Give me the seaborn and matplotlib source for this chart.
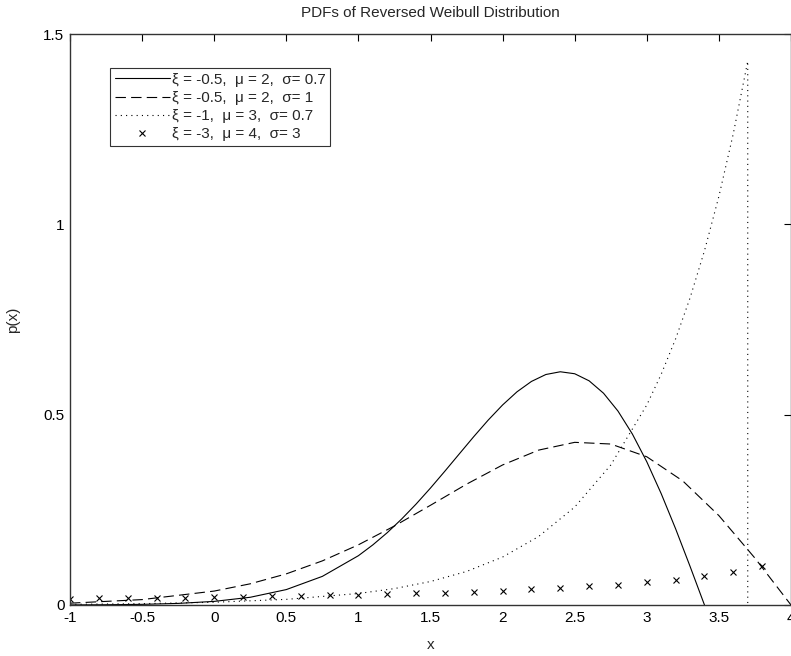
import matplotlib
matplotlib.use("Agg")
import matplotlib.pyplot as plt
import seaborn as sns
import pandas as pd

# ---- data ----
x_solid = [-1.0, -0.75, -0.5, -0.25, 0.0, 0.25, 0.5, 0.75, 1.0, 1.1, 1.2, 1.3, 1.4, 1.5,
           1.6, 1.7, 1.8, 1.9, 2.0, 2.1, 2.2, 2.3, 2.4, 2.5, 2.6, 2.7, 2.8, 2.9, 3.0,
           3.1, 3.2, 3.3, 3.4]
p_solid = [0.0002, 0.0007, 0.0017, 0.0042, 0.0095, 0.0203, 0.0405, 0.0752, 0.1295, 0.1579,
           0.19, 0.2259, 0.2651, 0.3073, 0.3517, 0.3971, 0.4423, 0.4857, 0.5255, 0.5601,
           0.5873, 0.6055, 0.6127, 0.6075, 0.5889, 0.5563, 0.5095, 0.4491, 0.3762,
           0.2924, 0.2, 0.1015, 0.0]

x_dash = [-1.0, -0.5, 0.0, 0.25, 0.5, 0.75, 1.0, 1.25, 1.5, 1.75, 2.0, 2.25, 2.5,
          2.75, 3.0, 3.25, 3.5, 3.75, 4.0]
p_dash = [0.0048, 0.0142, 0.0366, 0.0557, 0.0818, 0.1159, 0.1581, 0.2076, 0.262, 0.3174,
          0.3679, 0.4069, 0.4273, 0.4229, 0.3894, 0.3258, 0.2348, 0.1231, 0.0]

x_dot = [-1.0, -0.5, 0.0, 0.5, 1.0, 1.25, 1.5, 1.75, 2.0, 2.25, 2.5, 2.75, 3.0, 3.1,
         3.2, 3.3, 3.4, 3.5, 3.6, 3.7, 3.7]
p_dot = [0.0017, 0.0035, 0.0072, 0.0148, 0.0302, 0.0431, 0.0617, 0.0881, 0.126, 0.18,
         0.2573, 0.3677, 0.5255, 0.6063, 0.6993, 0.8067, 0.9306, 1.0736, 1.2384, 1.4286, 0.0]

x_mark = [-1.0, -0.8, -0.6, -0.4, -0.2, 0.0, 0.2, 0.4, 0.6, 0.8, 1.0, 1.2, 1.4, 1.6,
          1.8, 2.0, 2.2, 2.4, 2.6, 2.8, 3.0, 3.2, 3.4, 3.6, 3.8]
p_mark = [0.0164, 0.0171, 0.0179, 0.0187, 0.0197, 0.0206, 0.0217, 0.0229, 0.0241, 0.0255,
          0.0271, 0.0288, 0.0306, 0.0328, 0.0351, 0.0379, 0.041, 0.0446, 0.0487, 0.0536,
          0.0596, 0.0668, 0.0756, 0.087, 0.1019]

labels = ["ξ = -0.5,  μ = 2,  σ= 0.7",
          "ξ = -0.5,  μ = 2,  σ= 1",
          "ξ = -1,  μ = 3,  σ= 0.7",
          "ξ = -3,  μ = 4,  σ= 3"]

x_ticks = [-1, -0.5, 0, 0.5, 1, 1.5, 2, 2.5, 3, 3.5, 4]
x_ticklabels = ["-1", "-0.5", "0", "0.5", "1", "1.5", "2", "2.5", "3", "3.5", "4"]
y_ticks = [0, 0.5, 1, 1.5]
y_ticklabels = ["0", "0.5", "1", "1.5"]

# ---- plotting ----
sns.set_theme(style="white")
plt.rcParams['font.family'] = ['Liberation Sans', 'DejaVu Sans']
plt.rcParams['lines.scale_dashes'] = False

fig = plt.figure(figsize=(7.91, 6.56), dpi=100)
ax = fig.add_axes([70/791, (656-605)/656, (791-70)/791, (605-34)/656])

df_s = pd.DataFrame({"x": x_solid, "p": p_solid})
df_d = pd.DataFrame({"x": x_dash, "p": p_dash})
df_o = pd.DataFrame({"x": x_dot, "p": p_dot})
df_m = pd.DataFrame({"x": x_mark, "p": p_mark})

lw = 0.8
sns.lineplot(data=df_s, x="x", y="p", ax=ax, color="black", lw=lw,
             estimator=None, sort=False, label=labels[0])
sns.lineplot(data=df_d, x="x", y="p", ax=ax, color="black", lw=lw,
             estimator=None, sort=False, label=labels[1])
ax.lines[-1].set_dashes((7.5, 3.75))
sns.lineplot(data=df_o, x="x", y="p", ax=ax, color="black", lw=lw,
             estimator=None, sort=False, label=labels[2])
ax.lines[-1].set_dashes((0.8, 3.0))
sns.lineplot(data=df_m, x="x", y="p", ax=ax, color="black", lw=lw,
             estimator=None, sort=False, label=labels[3], marker="x",
             markersize=5, markeredgewidth=0.8, markeredgecolor="black",
             markerfacecolor="black")
ax.lines[-1].set_linestyle("none")
ax.lines[-1].set_markeredgecolor("black")

ax.set_xlim(-1, 4)
ax.set_ylim(0, 1.5)
ax.set_xticks(x_ticks)
ax.set_xticklabels(x_ticklabels)
ax.set_yticks(y_ticks)
ax.set_yticklabels(y_ticklabels)
ax.tick_params(direction="in", length=5, width=0.8, top=True, right=True,
               labelsize=11, colors="black", pad=4)
for s in ax.spines.values():
    s.set_color("#333333")
    s.set_linewidth(1.0)

ax.set_xlabel("x", fontsize=11, labelpad=10)
ax.set_ylabel("p(x)", fontsize=11, labelpad=17)
ax.set_title("PDFs of Reversed Weibull Distribution", fontsize=11, pad=12)

leg = ax.legend(loc="upper left", bbox_to_anchor=(40/721, (605-68)/571),
                borderaxespad=0, fontsize=11, frameon=True, fancybox=False,
                handlelength=3.6, handletextpad=0.15, borderpad=0.3,
                labelspacing=0.28)
leg.get_frame().set_edgecolor("black")
leg.get_frame().set_linewidth(0.8)
for h in leg.legend_handles:
    h.set_markeredgecolor("black")

fig.savefig("out.png", dpi=100)
